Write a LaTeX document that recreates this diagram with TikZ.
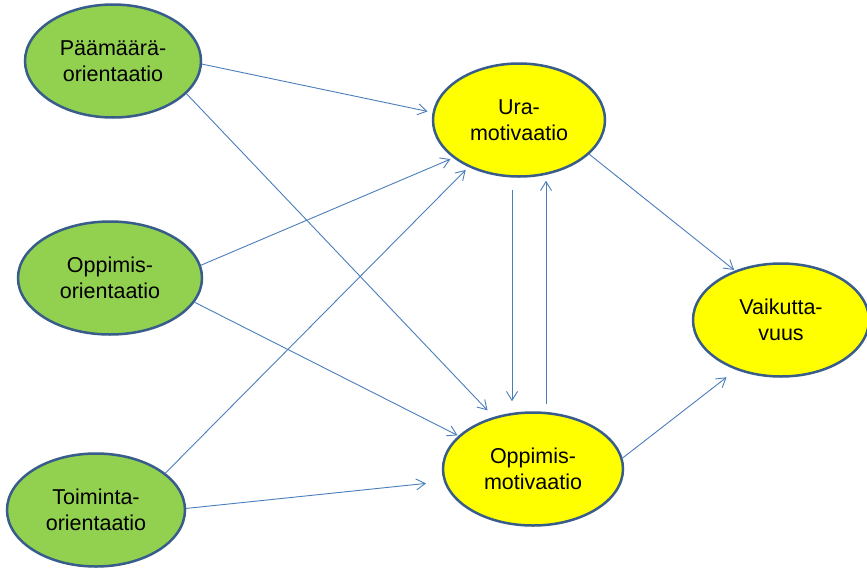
\documentclass[tikz,border=0pt]{standalone}
\usepackage{fontspec}
\setmainfont{Liberation Sans}
\usetikzlibrary{shapes.geometric,arrows.meta}
\definecolor{orgreen}{HTML}{92D050}
\definecolor{motyellow}{HTML}{FFFF00}
\definecolor{rimblue}{HTML}{385D8A}
\definecolor{linkblue}{HTML}{4A7EBB}
\tikzset{
  blob/.style={ellipse, draw=rimblue, line width=2.5pt, inner sep=0pt,
    minimum width=176pt, minimum height=113pt, align=center,
    font=\fontsize{21.5}{25.5}\selectfont},
  orient/.style={blob, fill=orgreen},
  motiv/.style={blob, fill=motyellow},
  link/.style={draw=linkblue, line width=0.9pt,
    -{Straight Barb[length=9pt,width=11pt,line width=0.9pt]}}
}
\begin{document}
\begin{tikzpicture}[x=1pt,y=-1pt]
\useasboundingbox[fill=white] (0,0) rectangle (867,568);

% predictors
\node[orient] (pa) at (113,61) {Päämäärä-\\orientaatio};
\node[orient, minimum width=184pt] (op) at (110,278) {Oppimis-\\orientaatio};
\node[orient, minimum width=178pt] (to) at (96,510) {Toiminta-\\orientaatio};

% motivations and outcome
\node[motiv, minimum width=172pt] (ura) at (519,120) {Ura-\\motivaatio};
\node[motiv, minimum width=180pt] (om) at (533,469) {Oppimis-\\motivaatio};
\node[motiv] (va) at (781,320) {Vaikutta-\\vuus};

% paths from the orientations
\draw[link, shorten >=5pt] (pa.-2) -- (ura.175.6);
\draw[link, shorten >=9pt] (pa.-24) -- (om.127.9);
\draw[link, shorten >=3pt] (op.8) -- (ura.210.8);
\draw[link, shorten >=1pt] (op.-16.8) -- (om.156.3);
\draw[link, shorten >=4pt] (to.28.2) -- (ura.223.9);
\draw[link, shorten >=18pt] (to.1.3) -- (om.188.4);

% reciprocal paths between the motivations
\draw[link, shorten <=12pt, shorten >=10pt] ([xshift=-7pt]ura.south) -- ([xshift=-21pt]om.north);
\draw[link, shorten <=7pt, shorten >=3pt] ([xshift=13pt]om.north) -- ([xshift=27pt]ura.south);

% paths to the outcome
\draw[link, shorten >=1pt] (ura.-26.2) -- (va.133);
\draw[link, shorten >=12pt] (om.7.9) -- (va.228);
\end{tikzpicture}
\end{document}
